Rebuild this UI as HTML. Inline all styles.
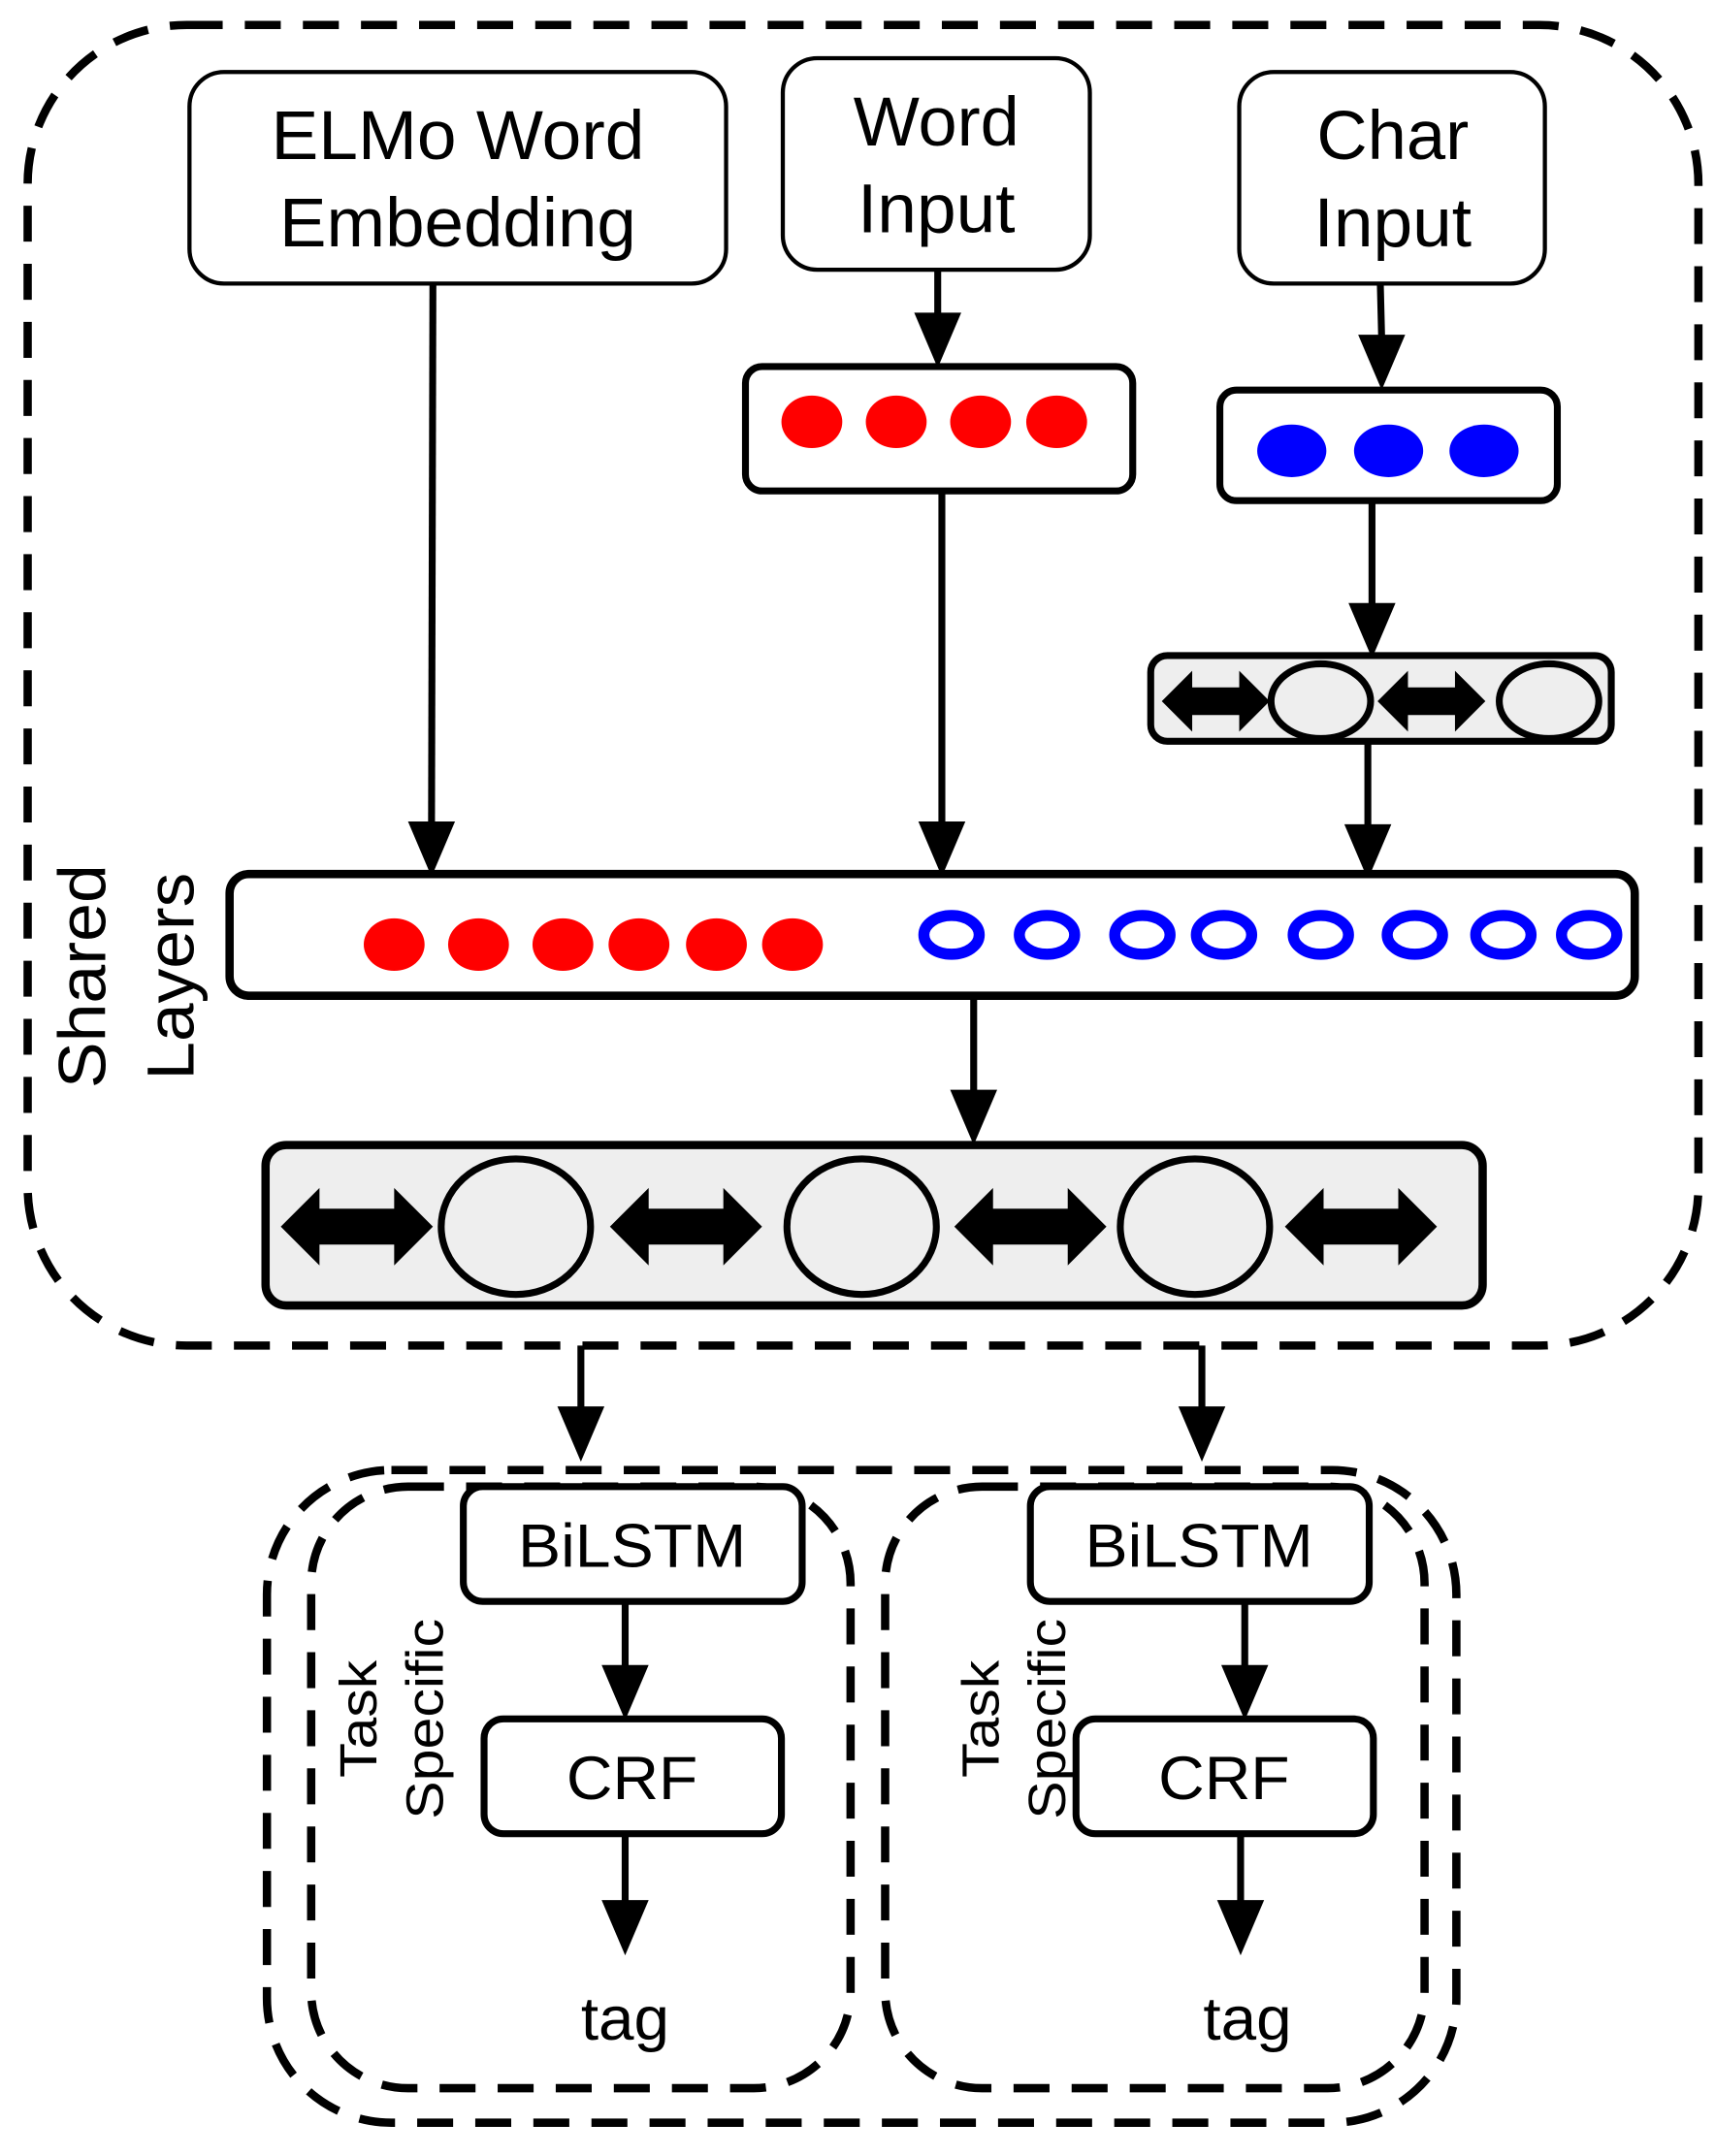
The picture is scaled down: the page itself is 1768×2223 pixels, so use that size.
<!DOCTYPE html>
<html><head><meta charset="utf-8"><style>html,body{margin:0;padding:0;background:#fff}svg{display:block}</style></head>
<body>
<svg width="1768" height="2223" viewBox="0 0 1240 1559" xmlns="http://www.w3.org/2000/svg" font-family="Liberation Sans, sans-serif">
<defs>
<g id="ah"><path d="M-17 -40 L17 -40 L0 0Z" fill="#000"/></g>
<g id="dbl"><path d="M0 0 L28 -28 L28 -13 L82 -13 L82 -28 L110 0 L82 28 L82 13 L28 13 L28 28Z" fill="#000"/></g>
<g id="dbls"><path d="M0 0 L22 -22 L22 -10 L56 -10 L56 -22 L78 0 L56 22 L56 10 L22 10 L22 22Z" fill="#000"/></g>
</defs>
<rect x="0" y="0" width="1240" height="1559" fill="#fff"/>
<rect x="20" y="18" width="1208" height="955" rx="115" fill="none" stroke="#000" stroke-width="6" stroke-dasharray="26,16"/>
<g fill="#fff" stroke="#000" stroke-width="3">
<rect x="137" y="52" width="388" height="153" rx="25"/>
<rect x="566" y="42" width="222" height="153" rx="25"/>
<rect x="896" y="52" width="221" height="153" rx="25"/>
</g>
<g font-size="50" text-anchor="middle" fill="#000">
<text x="331" y="115" textLength="270" lengthAdjust="spacingAndGlyphs">ELMo Word</text>
<text x="331" y="178" textLength="258" lengthAdjust="spacingAndGlyphs">Embedding</text>
<text x="677" y="105" textLength="120" lengthAdjust="spacingAndGlyphs">Word</text>
<text x="677" y="168" textLength="114" lengthAdjust="spacingAndGlyphs">Input</text>
<text x="1007" y="115" textLength="110" lengthAdjust="spacingAndGlyphs">Char</text>
<text x="1007" y="178" textLength="114" lengthAdjust="spacingAndGlyphs">Input</text>
</g>
<g stroke="#000" stroke-width="5">
<line x1="313" y1="205" x2="312" y2="600"/>
<line x1="678" y1="195" x2="678" y2="230"/>
<line x1="681" y1="355" x2="681" y2="600"/>
<line x1="998" y1="205" x2="999" y2="245"/>
<line x1="992" y1="362" x2="992" y2="440"/>
<line x1="989" y1="536" x2="989" y2="600"/>
<line x1="704" y1="720" x2="704" y2="790"/>
<line x1="420" y1="973" x2="420" y2="1020"/>
<line x1="869" y1="973" x2="869" y2="1020"/>
<line x1="452" y1="1158" x2="452" y2="1205"/>
<line x1="900" y1="1158" x2="900" y2="1205"/>
<line x1="452" y1="1326" x2="452" y2="1375"/>
<line x1="897" y1="1326" x2="897" y2="1375"/>
</g>
<use href="#ah" x="312" y="634"/><use href="#ah" x="678" y="266"/><use href="#ah" x="681" y="634"/>
<use href="#ah" x="999" y="282"/><use href="#ah" x="992" y="476"/><use href="#ah" x="989" y="636"/>
<use href="#ah" x="704" y="828"/><use href="#ah" x="420" y="1057"/><use href="#ah" x="869" y="1057"/>
<use href="#ah" x="452" y="1244"/><use href="#ah" x="900" y="1244"/><use href="#ah" x="452" y="1414"/><use href="#ah" x="897" y="1414"/>
<rect x="539" y="265" width="280" height="90" rx="12" fill="#fff" stroke="#000" stroke-width="5"/>
<g fill="#f00"><ellipse cx="587" cy="305" rx="22" ry="19"/><ellipse cx="648" cy="305" rx="22" ry="19"/><ellipse cx="709" cy="305" rx="22" ry="19"/><ellipse cx="764" cy="305" rx="22" ry="19"/></g>
<rect x="882" y="282" width="244" height="80" rx="12" fill="#fff" stroke="#000" stroke-width="5"/>
<g fill="#00f"><ellipse cx="934" cy="326" rx="25" ry="19"/><ellipse cx="1004" cy="326" rx="25" ry="19"/><ellipse cx="1073" cy="326" rx="25" ry="19"/></g>
<rect x="832" y="474" width="333" height="62" rx="12" fill="#eee" stroke="#000" stroke-width="5"/>
<g fill="#eee" stroke="#000" stroke-width="5"><ellipse cx="955" cy="507" rx="36" ry="27"/><ellipse cx="1120" cy="507" rx="36" ry="27"/></g>
<use href="#dbls" x="840" y="507"/><use href="#dbls" x="996" y="507"/>
<rect x="166" y="632" width="1016" height="88" rx="14" fill="#fff" stroke="#000" stroke-width="6"/>
<g fill="#f00"><ellipse cx="285" cy="683" rx="22" ry="19"/><ellipse cx="346" cy="683" rx="22" ry="19"/><ellipse cx="407" cy="683" rx="22" ry="19"/><ellipse cx="462" cy="683" rx="22" ry="19"/><ellipse cx="518" cy="683" rx="22" ry="19"/><ellipse cx="573" cy="683" rx="22" ry="19"/></g>
<g fill="none" stroke="#00f" stroke-width="8"><ellipse cx="688" cy="676" rx="20" ry="14"/><ellipse cx="757" cy="676" rx="20" ry="14"/><ellipse cx="826" cy="676" rx="20" ry="14"/><ellipse cx="885" cy="676" rx="20" ry="14"/><ellipse cx="955" cy="676" rx="20" ry="14"/><ellipse cx="1023" cy="676" rx="20" ry="14"/><ellipse cx="1087" cy="676" rx="20" ry="14"/><ellipse cx="1149" cy="676" rx="20" ry="14"/></g>
<rect x="192" y="828" width="880" height="116" rx="15" fill="#eee" stroke="#000" stroke-width="6"/>
<g fill="#eee" stroke="#000" stroke-width="5"><ellipse cx="373" cy="887" rx="54" ry="49"/><ellipse cx="623" cy="887" rx="54" ry="49"/><ellipse cx="864" cy="887" rx="54" ry="49"/></g>
<use href="#dbl" x="203" y="887"/><use href="#dbl" x="441" y="887"/><use href="#dbl" x="690" y="887"/><use href="#dbl" x="929" y="887"/>
<g font-size="48" text-anchor="middle" fill="#000">
<text transform="translate(76,706) rotate(-90)" textLength="162" lengthAdjust="spacingAndGlyphs">Shared</text>
<text transform="translate(140,706) rotate(-90)" textLength="150" lengthAdjust="spacingAndGlyphs">Layers</text>
</g>
<g fill="none" stroke="#000" stroke-width="6" stroke-dasharray="26,16">
<rect x="193" y="1063" width="860" height="472" rx="90"/>
<rect x="225" y="1075" width="390" height="435" rx="70"/>
<rect x="640" y="1075" width="390" height="435" rx="70"/>
</g>
<g fill="#fff" stroke="#000" stroke-width="5">
<rect x="335" y="1075" width="245" height="83" rx="14"/>
<rect x="745" y="1075" width="245" height="83" rx="14"/>
<rect x="350" y="1243" width="215" height="83" rx="14"/>
<rect x="778" y="1243" width="215" height="83" rx="14"/>
</g>
<g font-size="44" text-anchor="middle" fill="#000">
<text x="457" y="1133" textLength="165" lengthAdjust="spacingAndGlyphs">BiLSTM</text>
<text x="867" y="1133" textLength="165" lengthAdjust="spacingAndGlyphs">BiLSTM</text>
<text x="457" y="1301" textLength="95" lengthAdjust="spacingAndGlyphs">CRF</text>
<text x="885" y="1301" textLength="95" lengthAdjust="spacingAndGlyphs">CRF</text>
<text x="452" y="1475" textLength="64" lengthAdjust="spacingAndGlyphs">tag</text>
<text x="902" y="1475" textLength="64" lengthAdjust="spacingAndGlyphs">tag</text>
</g>
<g font-size="38" text-anchor="middle" fill="#000">
<text transform="translate(272,1243) rotate(-90)" textLength="85" lengthAdjust="spacingAndGlyphs">Task</text>
<text transform="translate(320,1243) rotate(-90)" textLength="145" lengthAdjust="spacingAndGlyphs">Specific</text>
<text transform="translate(722,1243) rotate(-90)" textLength="85" lengthAdjust="spacingAndGlyphs">Task</text>
<text transform="translate(770,1243) rotate(-90)" textLength="145" lengthAdjust="spacingAndGlyphs">Specific</text>
</g>
</svg>
</body></html>
